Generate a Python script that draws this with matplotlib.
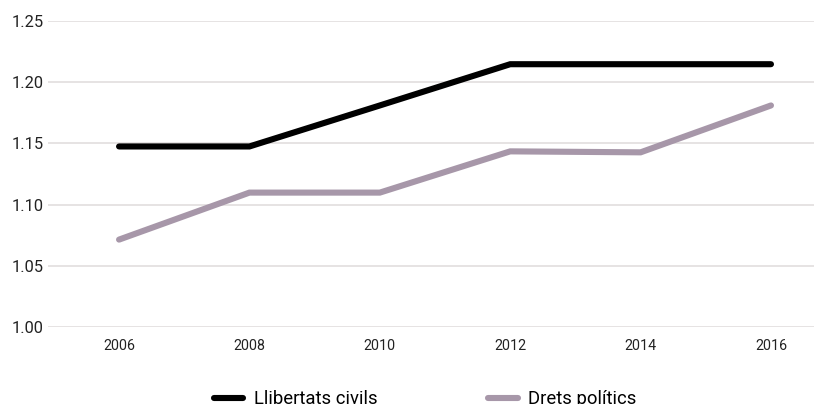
import matplotlib
matplotlib.use("Agg")
import matplotlib.pyplot as plt

years = [2006, 2008, 2010, 2012, 2014, 2016]
llibertats = [1.1475, 1.1475, 1.181, 1.2147, 1.2147, 1.2147]
drets = [1.0714, 1.1098, 1.1098, 1.1435, 1.1427, 1.181]
yticks = [1.00, 1.05, 1.10, 1.15, 1.20, 1.25]
series_names = ["Llibertats civils", "Drets polítics"]

plt.rcParams['font.family'] = ['Roboto', 'DejaVu Sans']

fig = plt.figure(figsize=(8.14, 4.04), dpi=100)
ax = fig.add_axes([48/814, 1-327/404, 1-48/814, (327-21)/404])

ax.plot(years, llibertats, color="#000000", lw=4.4, solid_capstyle="round",
        solid_joinstyle="miter", label=series_names[0], zorder=3)
ax.plot(years, drets, color="#a797a9", lw=4.4, solid_capstyle="round",
        solid_joinstyle="miter", label=series_names[1], zorder=3)

ax.set_ylim(1.0, 1.25)
ax.set_xlim(2004.91, 2016.66)
ax.set_yticks(yticks)
ax.set_yticklabels([f"{v:.2f}" for v in yticks], fontsize=11.8, color="#222222")
ax.set_xticks(years)
ax.set_xticklabels([str(y) for y in years], fontsize=10.3, color="#222222")
ax.tick_params(axis="both", length=0)
ax.tick_params(axis="y", pad=3)
ax.tick_params(axis="x", pad=9)
ax.grid(axis="y", color="#e2dede", lw=1.2)
ax.set_axisbelow(True)
for s in ax.spines.values():
    s.set_visible(False)

fig.legend(loc="center", bbox_to_anchor=(425/814, 1-399/404), ncol=2,
           frameon=False, fontsize=13.3, handlelength=1.6, handletextpad=0.55,
           columnspacing=6.0)

fig.savefig("out.png", dpi=100)
